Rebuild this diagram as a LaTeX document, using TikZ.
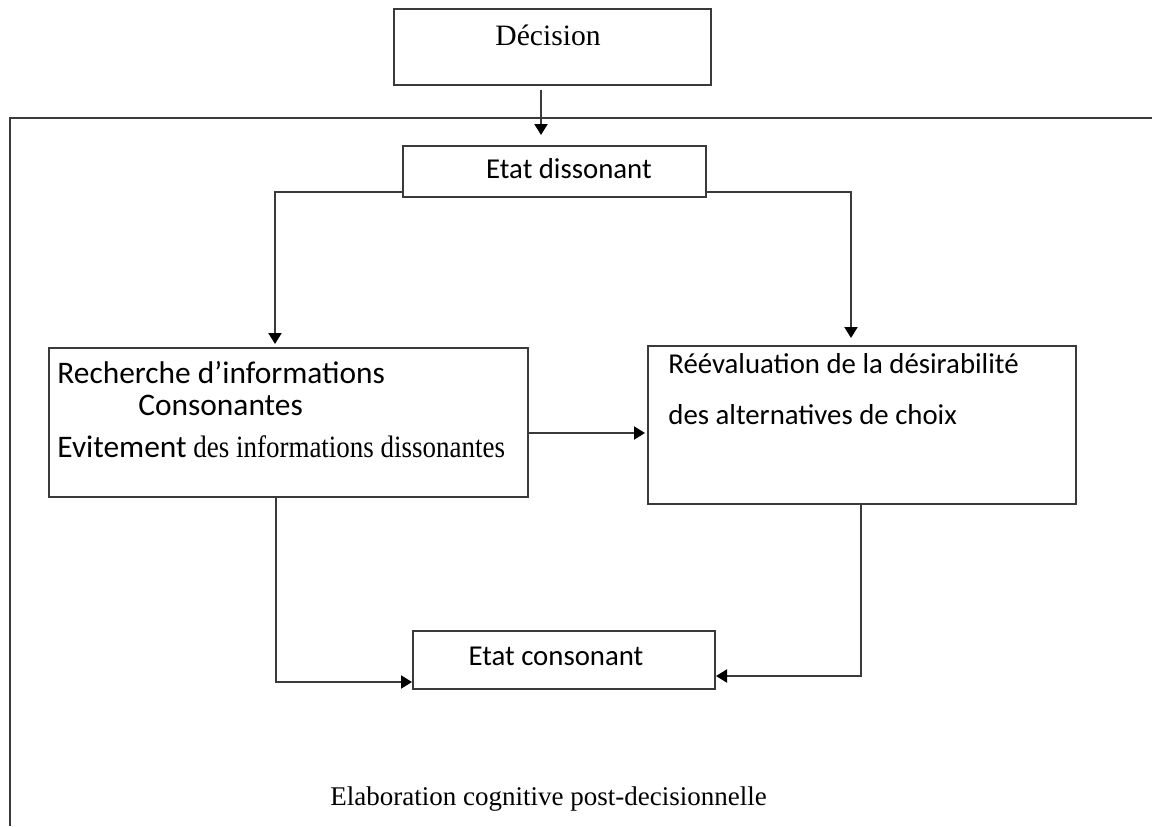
\documentclass[tikz,border=0pt]{standalone}
\usepackage{fontspec}
\setmainfont{Liberation Serif}
\newfontfamily\calib{Carlito}
\usetikzlibrary{arrows.meta}
\definecolor{linec}{HTML}{3A3A3A}
\begin{document}
\begin{tikzpicture}[x=0.5pt,y=-0.5pt,
  box/.style={draw=linec, line width=1pt, inner sep=0pt, anchor=north west},
  arr/.style={draw=linec, line width=1pt, -{Triangle[length=5.5pt,width=6.5pt,color=black]}},
  lbl/.style={inner sep=0pt, text=black},
  sanstxt/.style={lbl, font=\calib\fontsize{14.4pt}{17pt}\selectfont},
  sansbig/.style={lbl, font=\calib\fontsize{15.7pt}{18pt}\selectfont},
  seriftxt/.style={lbl, font=\fontsize{14.8pt}{17pt}\selectfont}]
\useasboundingbox (0,0) rectangle (1152,826);

% outer frame of the post-decision stage
\draw[linec, line width=1pt] (1152,118) -| (10,826);

% boxes
\node[box, minimum width=158.5pt, minimum height=38pt] (dec) at (393,8) {};
\node[box, minimum width=151.5pt, minimum height=25.5pt] (ed) at (402,145) {};
\node[box, minimum width=239.5pt, minimum height=74.5pt] (rech) at (48,347) {};
\node[box, minimum width=214pt, minimum height=79pt] (reev) at (647,345) {};
\node[box, minimum width=151pt, minimum height=29pt] (cons) at (412,630) {};

% texts
\node[seriftxt, anchor=base] (tdec) at (548,45) {Décision};
\node[sanstxt, anchor=base] (ted) at (569,178) {Etat dissonant};
\node[sansbig, anchor=base west] (tr1) at (57,383) {Recherche d’informations};
\node[sansbig, anchor=base west] (tr2) at (138,415) {Consonantes};
\node[sansbig, anchor=base west] (tr3) at (57,457) {Evitement};
\node[lbl, anchor=base west, font=\fontsize{15.5pt}{18pt}\selectfont] (tr4) at (193,457) {\scalebox{0.87}[1]{des informations dissonantes}};
\node[sanstxt, anchor=base west] (tv1) at (668,373) {Réévaluation de la désirabilité};
\node[sanstxt, anchor=base west] (tv2) at (668,424) {des alternatives de choix};
\node[sanstxt, anchor=base] (tcons) at (556,665) {Etat consonant};
\node[lbl, anchor=base west, font=\fontsize{13.5pt}{16pt}\selectfont] (telab) at (330,805) {Elaboration cognitive post-decisionnelle};

% routing helpers
\coordinate (xD) at (541,0);
\coordinate (xL) at (275,0);
\coordinate (xR) at (851,0);
\coordinate (xLB) at (276,0);
\coordinate (xRB) at (861,0);
\coordinate (yS) at (0,192);
\coordinate (yM) at (0,433);
\coordinate (yC1) at (0,682);
\coordinate (yC2) at (0,676);

% connectors
\draw[arr, shorten <=2pt, shorten >=5pt] (dec.south -| xD) -- (ed.north -| xD);
\draw[arr, shorten >=1.5pt] (ed.west |- yS) -| (rech.north -| xL);
\draw[arr, shorten >=3.5pt] (ed.east |- yS) -| (reev.north -| xR);
\draw[arr, shorten >=1pt] (rech.east |- yM) -- (reev.west |- yM);
\draw[arr] (rech.south -| xLB) |- (cons.west |- yC1);
\draw[arr] (reev.south -| xRB) |- (cons.east |- yC2);
\end{tikzpicture}
\end{document}
